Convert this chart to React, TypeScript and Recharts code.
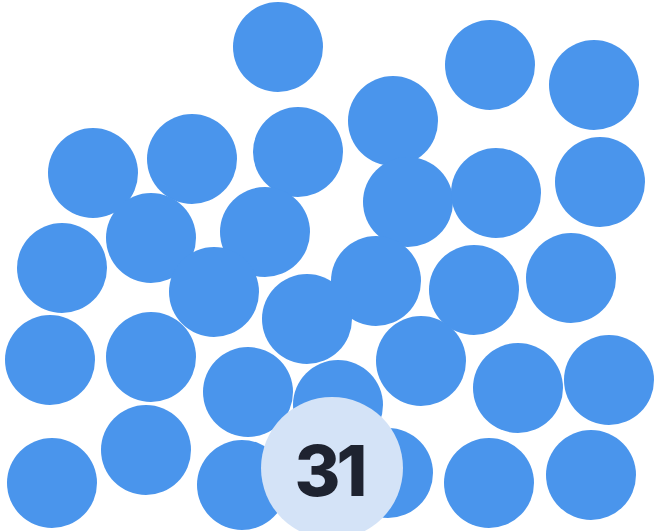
import React from "react";
import { ScatterChart, Scatter, XAxis, YAxis } from "recharts";

const W = 656;
const H = 531;

// bubble centres
const bubbleX = [
  278, 490, 594, 393, 93, 192, 298, 408, 496, 600,
  62, 151, 265, 214, 376, 474, 571, 307, 50, 151,
  421, 248, 338, 518, 609, 52, 146, 242, 388, 489, 591,
];
const bubbleY = [
  47, 65, 85, 121, 173, 159, 152, 202, 193, 182,
  268, 238, 232, 292, 281, 290, 278, 319, 360, 357,
  361, 392, 405, 388, 380, 483, 450, 485, 473, 483, 475,
];

const countX = [332];
const countY = [468];
const countLabel = [String(bubbleX.length)];

const bubbles = bubbleX.map((x, i) => ({ x, y: bubbleY[i] }));
const counter = countX.map((x, i) => ({ x, y: countY[i], label: countLabel[i] }));

const BLUE = "#4A95EC";
const LIGHT = "#D4E3F7";

function Bubble(props: any) {
  const { cx, cy } = props;
  return <circle cx={cx} cy={cy} r={45} fill={BLUE} />;
}

function Counter(props: any) {
  const { cx, cy, payload } = props;
  return (
    <g>
      <circle cx={cx} cy={cy} r={71} fill={LIGHT} />
      <text
        x={cx - 3}
        y={cy + 2}
        textAnchor="middle"
        dominantBaseline="central"
        fontFamily="Inter, 'Open Sans', sans-serif"
        fontWeight={800}
        fontSize={70}
        letterSpacing={-4}
        fill="#1E2330"
      >
        {payload.label}
      </text>
    </g>
  );
}

export default function App() {
  return (
    <div style={{ position: "absolute", left: 0, top: 0, background: "#fff" }}>
      <ScatterChart width={W} height={H} margin={{ top: 0, right: 0, bottom: 0, left: 0 }}>
        <XAxis type="number" dataKey="x" domain={[0, W]} hide />
        <YAxis type="number" dataKey="y" domain={[0, H]} reversed hide />
        <Scatter data={bubbles} shape={<Bubble />} isAnimationActive={false} />
        <Scatter data={counter} shape={<Counter />} isAnimationActive={false} />
      </ScatterChart>
    </div>
  );
}
